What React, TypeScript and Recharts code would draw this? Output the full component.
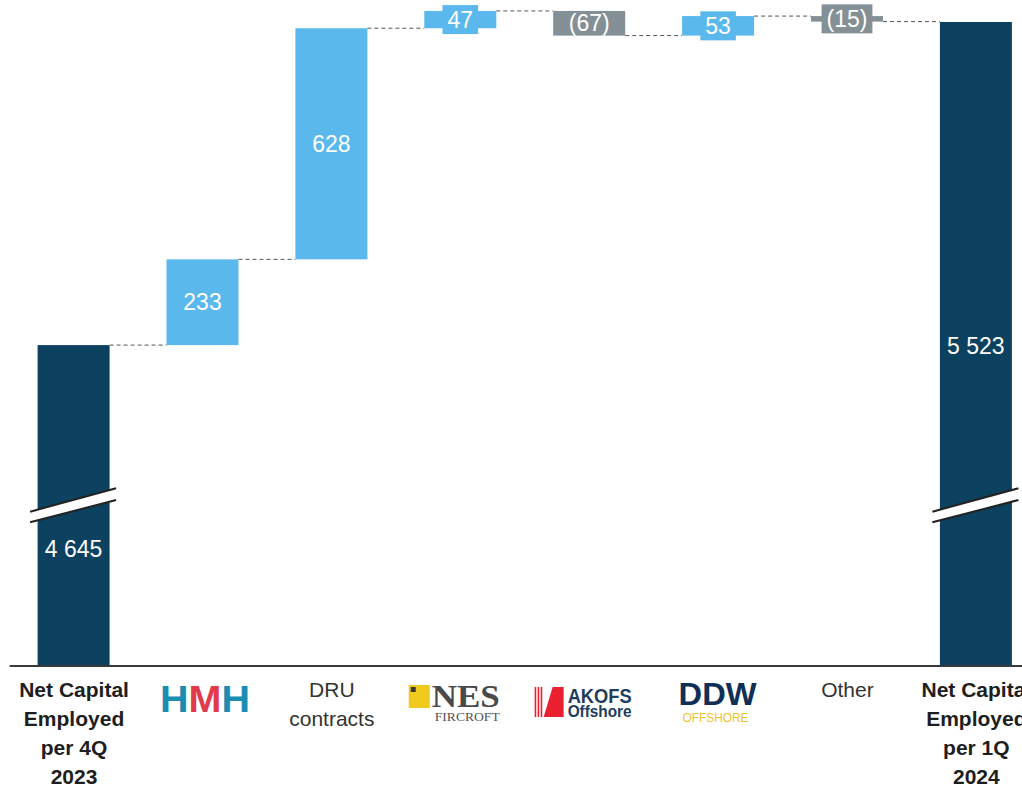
import React from "react";
import { ComposedChart, Bar, XAxis, YAxis, Cell } from "recharts";

// ---------- data ----------
const CATEGORIES = [
  "Net Capital Employed per 4Q 2023",
  "HMH",
  "DRU contracts",
  "NES Fircroft",
  "AKOFS Offshore",
  "DDW Offshore",
  "Other",
  "Net Capital Employed per 1Q 2024",
];
const VALUES = [4645, 233, 628, 47, -67, 53, -15, 5523];
const IS_TOTAL = [true, false, false, false, false, false, false, true];
const VALUE_LABELS = ["4 645", "233", "628", "47", "(67)", "53", "(15)", "5 523"];
const TICK_LINES = [
  ["Net Capital", "Employed", "per 4Q", "2023"],
  ["HMH"],
  ["DRU", "contracts"],
  ["NES", "FIRCROFT"],
  ["AKOFS", "Offshore"],
  ["DDW", "OFFSHORE"],
  ["Other"],
  ["Net Capital", "Employed", "per 1Q", "2024"],
];
// broken value axis: visible range
const Y_FLOOR = 3773;
const Y_CEIL = 5580;

// ---------- styles ----------
const NAVY = "#0C4160";
const BLUE = "#5BB8EC";
const GRAY = "#858F96";
const CHART_W = 1042;
const CHART_H = 788;
const MARGIN = { top: 1, right: 1.2, left: 9.6, bottom: 0 };
const PLOT_W = CHART_W - MARGIN.left - MARGIN.right;
const BAND = PLOT_W / CATEGORIES.length;
const BAR_W = 72;
const GAP = BAND - BAR_W;
const NUM_FONT = "'Liberation Sans', Arial, sans-serif";

let running = 0;
const rows = CATEGORIES.map((name, i) => {
  const v = VALUES[i];
  let range: [number, number];
  if (IS_TOTAL[i]) {
    range = [Y_FLOOR, v];
    running = v;
  } else {
    const next = running + v;
    range = [Math.min(running, next), Math.max(running, next)];
    running = next;
  }
  const color = IS_TOTAL[i] ? NAVY : v < 0 ? GRAY : BLUE;
  return { name, range, delta: v, total: IS_TOTAL[i], label: VALUE_LABELS[i], color };
});

function textWidth(s: string) {
  let w = 0;
  for (const ch of s) {
    if (ch === "(" || ch === ")") w += 7.6;
    else if (ch === " ") w += 6.4;
    else w += 12.8;
  }
  return w;
}

function WaterfallShape(props: any) {
  const { x, y, width, height, index, payload } = props;
  const top = Math.min(y, y + height);
  const h = Math.abs(height);
  const bottom = top + h;
  const fill = payload.color;
  const cx = x + width / 2;
  const els: any[] = [];
  els.push(<rect key="r" x={x} y={top} width={width} height={h} fill={fill} />);

  // connector to the next bar
  if (index < CATEGORIES.length - 1) {
    const ly = payload.total || payload.delta >= 0 ? top : bottom;
    els.push(
      <line
        key="c"
        x1={x + width}
        x2={x + width + GAP}
        y1={ly}
        y2={ly}
        stroke="#555"
        strokeWidth={1}
        strokeDasharray="4 3"
      />
    );
  }

  let labelY = top + h / 2;
  if (payload.total) {
    // axis break marks
    const lx = x - 7.5;
    const rx = x + 78.5;
    els.push(
      <polygon
        key="bw"
        points={`${lx},${bottom - 154.3} ${rx},${bottom - 177.7} ${rx},${bottom - 166} ${lx},${bottom - 143.7}`}
        fill="#fff"
      />
    );
    els.push(
      <line key="b1" x1={lx} y1={bottom - 154.3} x2={rx} y2={bottom - 177.7} stroke="#222" strokeWidth={2} />
    );
    els.push(
      <line key="b2" x1={lx} y1={bottom - 143.7} x2={rx} y2={bottom - 166} stroke="#222" strokeWidth={2} />
    );
    if (index === 0) labelY = bottom - 117;
    else labelY = top + h / 2 + 2;
  }

  if (h < 22) {
    const bw = textWidth(payload.label) + 10;
    els.push(<rect key="lb" x={cx - bw / 2} y={labelY - 14.5} width={bw} height={29} fill={fill} />);
  }
  els.push(
    <text
      key="t"
      x={cx}
      y={labelY + 8.2}
      textAnchor="middle"
      fill="#fff"
      fontSize={23}
      fontFamily={NUM_FONT}
    >
      {payload.label}
    </text>
  );
  return <g>{els}</g>;
}

function CategoryTick(props: any) {
  const { x, y, index } = props;
  const cx = x;
  const base = y;
  const lines = TICK_LINES[index] || [];
  if (index === 0 || index === 7) {
    return (
      <g>
        {lines.map((l, k) => (
          <text
            key={k}
            x={cx}
            y={base + 31 + k * 29}
            textAnchor="middle"
            fill="#1e1e1e"
            fontSize={21}
            fontWeight="bold"
            fontFamily={NUM_FONT}
          >
            {l}
          </text>
        ))}
      </g>
    );
  }
  if (index === 2 || index === 6) {
    return (
      <g>
        {lines.map((l, k) => (
          <text
            key={k}
            x={cx}
            y={base + 31 + k * 29}
            textAnchor="middle"
            fill="#333"
            fontSize={21}
            fontFamily={NUM_FONT}
          >
            {l}
          </text>
        ))}
      </g>
    );
  }
  if (index === 1) {
    return (
      <text
        x={cx - 43}
        y={base + 46}
        fontSize={37}
        fontWeight="bold"
        fontFamily={NUM_FONT}
        textLength={90}
        lengthAdjust="spacingAndGlyphs"
      >
        <tspan fill="#1B8DB3">H</tspan>
        <tspan fill="#E03A4B">M</tspan>
        <tspan fill="#1B8DB3">H</tspan>
      </text>
    );
  }
  if (index === 3) {
    return (
      <g>
        <rect x={cx - 52} y={base + 19} width={21} height={23} fill="#F0CB1E" />
        <rect x={cx - 50} y={base + 21} width={5} height={5} fill="#3A3A3A" />
        <text
          x={cx - 29}
          y={base + 41}
          fontSize={31}
          fontWeight="bold"
          fill="#4A4A4A"
          fontFamily="'Liberation Serif', 'DejaVu Serif', serif"
          textLength={68}
          lengthAdjust="spacingAndGlyphs"
        >
          {lines[0]}
        </text>
        <text
          x={cx - 26}
          y={base + 55}
          fontSize={12}
          fill="#555"
          fontFamily="'Liberation Serif', 'DejaVu Serif', serif"
          textLength={65}
          lengthAdjust="spacingAndGlyphs"
        >
          {lines[1]}
        </text>
      </g>
    );
  }
  if (index === 4) {
    return (
      <g>
        <rect x={cx - 55} y={base + 21} width={1.6} height={30} fill="#E8202F" />
        <rect x={cx - 52} y={base + 21} width={1.6} height={30} fill="#E8202F" />
        <rect x={cx - 49} y={base + 21} width={1.6} height={30} fill="#E8202F" />
        <polygon
          points={`${cx - 46},${base + 51} ${cx - 37},${base + 21} ${cx - 26},${base + 21} ${cx - 26},${base + 51}`}
          fill="#E8202F"
        />
        <text
          x={cx - 22}
          y={base + 37}
          fontSize={20}
          fontWeight="bold"
          fill="#1F3D5C"
          fontFamily={NUM_FONT}
          textLength={64}
          lengthAdjust="spacingAndGlyphs"
        >
          {lines[0]}
        </text>
        <text
          x={cx - 22}
          y={base + 51}
          fontSize={17}
          fontWeight="bold"
          fill="#1F3D5C"
          fontFamily={NUM_FONT}
          textLength={64}
          lengthAdjust="spacingAndGlyphs"
        >
          {lines[1]}
        </text>
      </g>
    );
  }
  if (index === 5) {
    return (
      <g>
        <text
          x={cx - 40}
          y={base + 39}
          fontSize={32}
          fontWeight="bold"
          fill="#0F2F57"
          fontFamily={NUM_FONT}
          textLength={78}
          lengthAdjust="spacingAndGlyphs"
        >
          {lines[0]}
        </text>
        <text
          x={cx - 36}
          y={base + 56}
          fontSize={12}
          fill="#F2C12E"
          fontFamily={NUM_FONT}
          textLength={66}
          lengthAdjust="spacingAndGlyphs"
        >
          {lines[1]}
        </text>
      </g>
    );
  }
  return null;
}

export default function App() {
  return (
    <div style={{ width: 1022, height: 788, overflow: "hidden", position: "relative" }}>
      <style>{`body{margin:0;overflow:hidden;background:#fff}`}</style>
      <ComposedChart width={CHART_W} height={CHART_H} data={rows} margin={MARGIN}>
        <XAxis
          dataKey="name"
          interval={0}
          height={122}
          tickLine={false}
          tickSize={0}
          tickMargin={0}
          axisLine={{ stroke: "#3a3a3a", strokeWidth: 2 }}
          tick={<CategoryTick />}
        />
        <YAxis hide domain={[Y_FLOOR, Y_CEIL]} allowDataOverflow />
        <Bar dataKey="range" barSize={BAR_W} isAnimationActive={false} shape={<WaterfallShape />}>
          {rows.map((r, i) => (
            <Cell key={i} fill={r.color} />
          ))}
        </Bar>
      </ComposedChart>
    </div>
  );
}
